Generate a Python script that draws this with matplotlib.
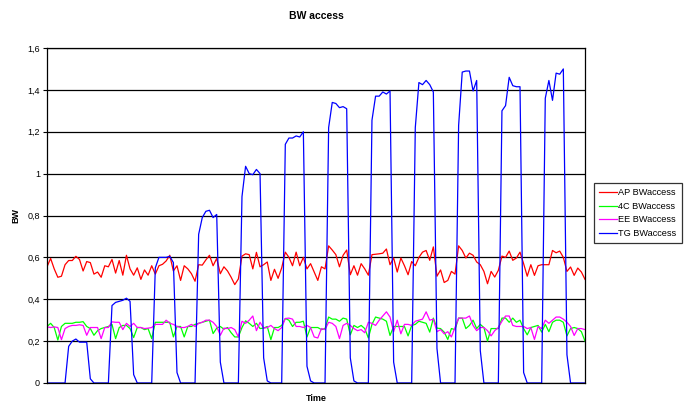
import numpy as np
import matplotlib
matplotlib.use('Agg')
import matplotlib.pyplot as plt
from matplotlib.ticker import FuncFormatter, MultipleLocator

plt.rcParams['font.family'] = ['Liberation Sans', 'DejaVu Sans']

# values, one per time step
ap = [0.555, 0.595, 0.545, 0.505, 0.51, 0.565, 0.585, 0.585, 0.605, 0.59,
      0.535, 0.58, 0.575, 0.52, 0.53, 0.505, 0.56, 0.555, 0.59, 0.525,
      0.585, 0.515, 0.61, 0.545, 0.515, 0.55, 0.495, 0.54, 0.515, 0.56,
      0.52, 0.56, 0.567, 0.583, 0.61, 0.535, 0.56, 0.49, 0.56, 0.545,
      0.522, 0.486, 0.565, 0.563, 0.588, 0.61, 0.56, 0.595, 0.522, 0.555,
      0.535, 0.505, 0.47, 0.497, 0.606, 0.617, 0.613, 0.545, 0.624, 0.555,
      0.565, 0.578, 0.49, 0.543, 0.5, 0.55, 0.625, 0.6, 0.56, 0.625,
      0.56, 0.6, 0.545, 0.57, 0.53, 0.49, 0.555, 0.545, 0.655, 0.635,
      0.613, 0.555, 0.61, 0.635, 0.517, 0.56, 0.515, 0.57, 0.545, 0.515,
      0.613, 0.615, 0.617, 0.62, 0.64, 0.565, 0.597, 0.53, 0.597, 0.56,
      0.517, 0.58, 0.56, 0.6, 0.625, 0.633, 0.586, 0.65, 0.51, 0.54,
      0.48, 0.49, 0.533, 0.52, 0.655, 0.633, 0.597, 0.62, 0.61, 0.578,
      0.565, 0.533, 0.474, 0.533, 0.506, 0.538, 0.606, 0.6, 0.63, 0.586,
      0.597, 0.625, 0.57, 0.51, 0.565, 0.514, 0.56, 0.565, 0.565, 0.565,
      0.633, 0.622, 0.63, 0.6, 0.533, 0.554, 0.514, 0.549, 0.53, 0.495]

c4 = [0.27, 0.285, 0.265, 0.205, 0.27, 0.285, 0.285, 0.285, 0.29, 0.29,
      0.293, 0.27, 0.26, 0.228, 0.25, 0.26, 0.265, 0.27, 0.28, 0.212,
      0.265, 0.275, 0.275, 0.26, 0.217, 0.265, 0.265, 0.255, 0.26, 0.212,
      0.29, 0.29, 0.29, 0.29, 0.29, 0.22, 0.27, 0.27, 0.22, 0.27,
      0.27, 0.28, 0.285, 0.29, 0.295, 0.3, 0.236, 0.262, 0.27, 0.257,
      0.265, 0.24, 0.22, 0.22, 0.265, 0.297, 0.285, 0.27, 0.285, 0.26,
      0.262, 0.27, 0.207, 0.265, 0.265, 0.275, 0.308, 0.3, 0.27, 0.29,
      0.29, 0.295, 0.22, 0.265, 0.265, 0.265, 0.255, 0.26, 0.315, 0.305,
      0.305, 0.295, 0.31, 0.305, 0.23, 0.275, 0.265, 0.275, 0.26, 0.215,
      0.28, 0.315, 0.31, 0.305, 0.295, 0.227, 0.27, 0.27, 0.27, 0.27,
      0.225, 0.275, 0.28, 0.295, 0.29, 0.285, 0.243, 0.31, 0.262, 0.26,
      0.243, 0.208, 0.26, 0.255, 0.31, 0.31, 0.26, 0.275, 0.3, 0.26,
      0.28, 0.265, 0.2, 0.26, 0.26, 0.26, 0.31, 0.31, 0.29, 0.31,
      0.29, 0.3, 0.26, 0.23, 0.265, 0.27, 0.275, 0.243, 0.28, 0.245,
      0.29, 0.3, 0.3, 0.29, 0.225, 0.26, 0.265, 0.26, 0.245, 0.2]

ee = [0.268, 0.265, 0.268, 0.265, 0.207, 0.26, 0.27, 0.275, 0.275, 0.278,
      0.275, 0.228, 0.265, 0.265, 0.265, 0.212, 0.265, 0.265, 0.292, 0.29,
      0.29, 0.255, 0.285, 0.27, 0.285, 0.265, 0.265, 0.26, 0.262, 0.265,
      0.28, 0.28, 0.28, 0.3, 0.285, 0.28, 0.27, 0.265, 0.265, 0.27,
      0.28, 0.27, 0.285, 0.29, 0.3, 0.3, 0.29, 0.27, 0.228, 0.262,
      0.26, 0.265, 0.255, 0.22, 0.295, 0.285, 0.3, 0.32, 0.25, 0.29,
      0.262, 0.265, 0.275, 0.26, 0.25, 0.265, 0.308, 0.31, 0.305, 0.27,
      0.27, 0.265, 0.275, 0.265, 0.22, 0.215, 0.26, 0.255, 0.29, 0.285,
      0.27, 0.212, 0.275, 0.285, 0.275, 0.26, 0.25, 0.255, 0.24, 0.29,
      0.285, 0.275, 0.3, 0.32, 0.34, 0.315, 0.245, 0.3, 0.235, 0.28,
      0.28, 0.275, 0.295, 0.3, 0.305, 0.34, 0.3, 0.305, 0.245, 0.255,
      0.235, 0.245, 0.22, 0.265, 0.31, 0.31, 0.31, 0.32, 0.275, 0.25,
      0.265, 0.265, 0.25, 0.225, 0.25, 0.265, 0.295, 0.32, 0.32, 0.275,
      0.27, 0.27, 0.27, 0.26, 0.265, 0.208, 0.27, 0.26, 0.3, 0.285,
      0.3, 0.315, 0.315, 0.305, 0.29, 0.27, 0.227, 0.26, 0.26, 0.255]

tg = [0, 0, 0, 0, 0, 0, 0.175, 0.2, 0.21, 0.195,
      0.195, 0.195, 0.02, 0, 0, 0, 0, 0, 0.37, 0.385,
      0.39, 0.395, 0.405, 0.39, 0.04, 0, 0, 0, 0, 0,
      0.55, 0.6, 0.6, 0.6, 0.605, 0.575, 0.05, 0, 0, 0,
      0, 0, 0.71, 0.79, 0.82, 0.825, 0.79, 0.805, 0.1, 0,
      0, 0, 0, 0, 0.89, 1.035, 1.0, 0.995, 1.02, 1.0,
      0.12, 0.01, 0, 0, 0, 0, 1.14, 1.17, 1.17, 1.18,
      1.175, 1.2, 0.08, 0.01, 0, 0, 0, 0, 1.22, 1.34,
      1.335, 1.315, 1.32, 1.31, 0.12, 0.01, 0, 0, 0, 0,
      1.255, 1.37, 1.37, 1.39, 1.38, 1.395, 0.1, 0, 0, 0,
      0, 0, 1.22, 1.435, 1.425, 1.445, 1.425, 1.39, 0.165, 0,
      0, 0, 0, 0, 1.23, 1.485, 1.49, 1.49, 1.395, 1.445,
      0.155, 0, 0, 0, 0, 0, 1.3, 1.325, 1.46, 1.42,
      1.415, 1.415, 0.05, 0, 0, 0, 0, 0, 1.36, 1.445,
      1.35, 1.48, 1.475, 1.5, 0.135, 0, 0, 0, 0, 0]

labels = ['AP BWaccess', '4C BWaccess', 'EE BWaccess', 'TG BWaccess']
colors = ['#ff0000', '#00ff00', '#ff00ff', '#0000ff']

fig = plt.figure(figsize=(6.87, 4.05), dpi=100)
ax = fig.add_axes([47 / 687, 1 - 383 / 405, 538 / 687, 335 / 405])

t = np.arange(len(ap))
for ys, lab, col in zip([ap, c4, ee, tg], labels, colors):
    ax.plot(t, ys, color=col, lw=0.9, label=lab)

ax.set_xlim(0, len(ap) - 1)
ax.set_ylim(0, 1.6)
ax.yaxis.set_major_locator(MultipleLocator(0.2))
ax.yaxis.set_major_formatter(FuncFormatter(lambda v, p: ('%g' % round(v, 2)).replace('.', ',')))
ax.set_xticks([])
ax.tick_params(axis='y', labelsize=6.5, length=3, width=0.8, pad=2)
ax.grid(axis='y', color='black', lw=0.9)
ax.set_axisbelow(True)
for s in ax.spines.values():
    s.set_color('black')
    s.set_linewidth(0.9)

ax.set_title('BW access', fontsize=7.5, fontweight='bold', pad=21)
ax.set_ylabel('BW', fontsize=6.5, fontweight='bold', labelpad=5)
ax.set_xlabel('Time', fontsize=6.5, fontweight='bold', labelpad=8)

leg = fig.legend(loc='center left', bbox_to_anchor=(589 / 687, 1 - 213 / 405),
                 fontsize=6.6, frameon=True, fancybox=False, handlelength=1.9,
                 handletextpad=0.2, borderpad=0.6, labelspacing=0.5)
leg.get_frame().set_edgecolor('black')
leg.get_frame().set_linewidth(0.9)

fig.savefig('out.png', dpi=100)
